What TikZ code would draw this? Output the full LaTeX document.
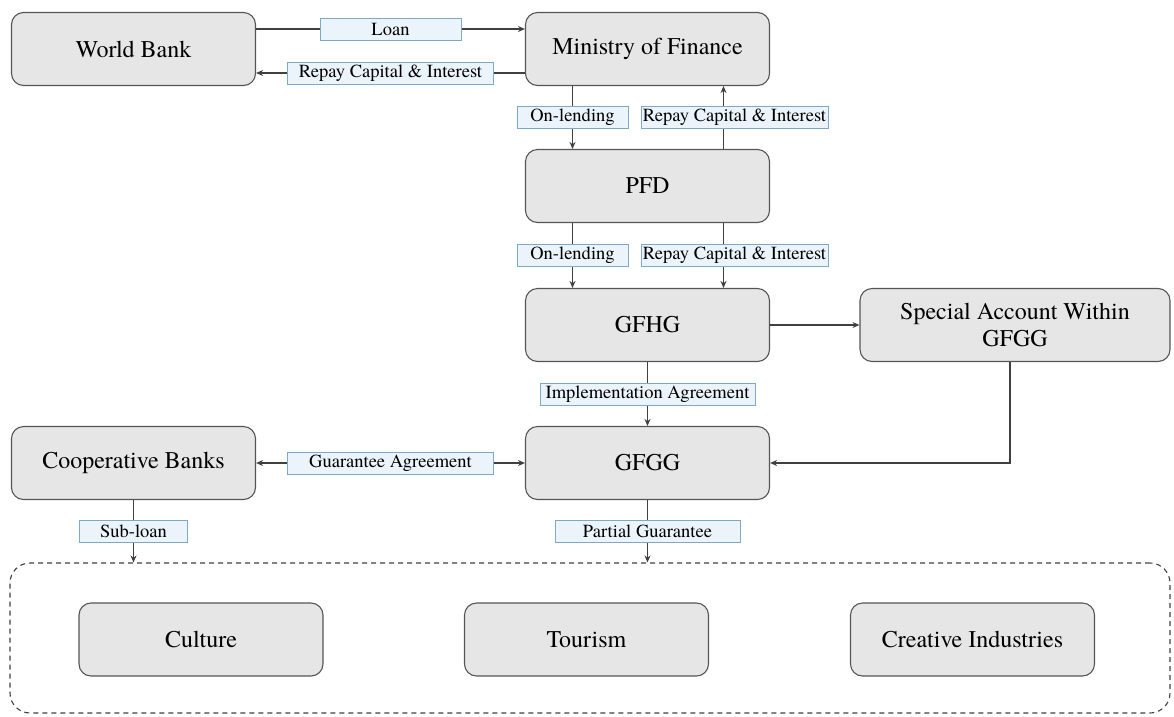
\documentclass[tikz,border=0pt]{standalone}
\usepackage{fontspec}
\newfontfamily\tnr{TeX Gyre Termes}
\usetikzlibrary{arrows.meta}
\definecolor{boxfill}{HTML}{E6E6E6}
\definecolor{boxline}{HTML}{555555}
\definecolor{labfill}{HTML}{EAF4FA}
\definecolor{labline}{HTML}{7FA9C2}
\definecolor{conncol}{HTML}{404040}
\begin{document}
\begin{tikzpicture}[x=1pt,y=-1pt,
  box/.style={draw=boxline, fill=boxfill, rounded corners=12pt, line width=1.1pt,
    minimum width=244pt, minimum height=73pt, inner sep=0pt, align=center,
    font=\tnr\fontsize{24}{27.5}\selectfont},
  lab/.style={draw=labline, fill=labfill, line width=0.9pt, minimum height=22pt,
    inner sep=0pt, font=\tnr\fontsize{18.5}{20}\selectfont},
  conn/.style={draw=conncol, line width=1.2pt, -{Stealth[length=7pt,width=6pt]}},
  biconn/.style={draw=conncol, line width=1.2pt, {Stealth[length=7pt,width=6pt]}-{Stealth[length=7pt,width=6pt]}},
  zonebox/.style={draw=conncol, line width=1.1pt, dash pattern=on 5pt off 4pt,
    rounded corners=20pt, minimum width=1160pt, minimum height=150pt, inner sep=0pt}
]
\useasboundingbox (0,0) rectangle (1174,716);

% main boxes
\node[box] (wb)   at (133.5,49)  {World Bank};
\node[box] (mof)  at (647.5,49)  {Ministry of Finance};
\node[box] (pfd)  at (647.5,186) {PFD};
\node[box] (gfhg) at (647.5,325) {GFHG};
\node[box, minimum width=310pt] (sa) at (1015,325) {Special Account Within\\GFGG};
\node[box] (gfgg) at (647.5,463) {GFGG};
\node[box] (cb)   at (133.5,463) {Cooperative Banks};

% container and sectors
\node[zonebox] (zone) at (590,638) {};
\node[box] (culture)  at (201,639.5) {Culture};
\node[box] (tourism)  at (586.5,639.5) {Tourism};
\node[box] (creative) at (972.5,639.5) {Creative Industries};

% connectors
\draw[conn] ([yshift=20pt]wb.east) -- node[lab, minimum width=141pt]{Loan} ([yshift=20pt]mof.west);
\draw[conn] ([yshift=-24pt]mof.west) -- node[lab, minimum width=206pt]{Repay Capital \& Interest} ([yshift=-24pt]wb.east);

\draw[conn] ([xshift=-75pt]mof.south) -- node[lab, minimum width=111pt]{On-lending} ([xshift=-75pt]pfd.north);
\draw[conn] ([xshift=76pt]pfd.north) -- node[lab, minimum width=187pt, xshift=11pt]{Repay Capital \& Interest} ([xshift=76pt]mof.south);

\draw[conn] ([xshift=-75pt]pfd.south) -- node[lab, minimum width=111pt]{On-lending} ([xshift=-75pt]gfhg.north);
\draw[conn] ([xshift=76pt]pfd.south) -- node[lab, minimum width=187pt, xshift=11pt]{Repay Capital \& Interest} ([xshift=76pt]gfhg.north);

\draw[conn] (gfhg.east) -- (sa.west);
\draw[conn] (gfhg.south) -- node[lab, minimum width=215pt]{Implementation Agreement} (gfgg.north);
\draw[conn] ([xshift=-5pt]sa.south) |- (gfgg.east);

\draw[biconn] (cb.east) -- node[lab, minimum width=206pt]{Guarantee Agreement} (gfgg.west);

\draw[conn] (cb.south) -- node[lab, minimum width=108pt]{Sub-loan} (cb.south |- zone.north);
\draw[conn] (gfgg.south) -- node[lab, minimum width=185pt]{Partial Guarantee} (gfgg.south |- zone.north);
\end{tikzpicture}
\end{document}
